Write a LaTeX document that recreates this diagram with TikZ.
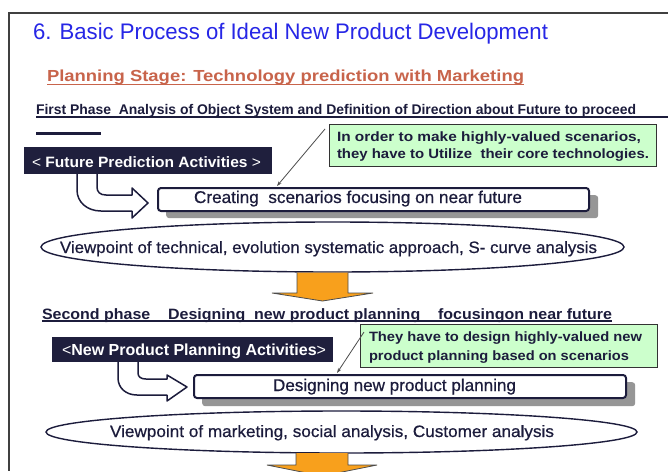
\documentclass[tikz,border=0pt]{standalone}
\usepackage{fontspec}
\setmainfont{Liberation Sans}
\newfontfamily\semibold[FakeBold=0.6]{Liberation Sans}
\usetikzlibrary{shapes.geometric,arrows.meta,calc}
\definecolor{ttlblue}{RGB}{38,38,230}
\definecolor{planred}{RGB}{200,100,75}
\definecolor{ink}{RGB}{28,28,60}
\definecolor{navybox}{RGB}{31,31,61}
\definecolor{mint}{RGB}{204,255,204}
\definecolor{orng}{RGB}{248,160,28}
\definecolor{shade}{RGB}{150,150,150}
\newcommand{\fitw}[2]{\resizebox{#1pt}{\height}{#2}}
\tikzset{
  txt/.style={inner sep=0pt, outer sep=0pt, anchor=base west, text=ink},
  darkbox/.style={fill=navybox, draw=none, inner sep=0pt, anchor=north west},
  notebox/.style={fill=mint, draw=black!80, line width=1.3pt, inner sep=0pt, anchor=north west},
  roundbox/.style={fill=white, draw=ink, line width=2pt, rounded corners=3pt, inner sep=0pt, anchor=north west},
  shadowbox/.style={fill=shade, draw=none, rounded corners=3pt, inner sep=0pt, anchor=north west},
  oval/.style={ellipse, draw=ink, line width=1.4pt, fill=white, inner sep=0pt},
  hollow/.style={fill=white, draw=ink, line width=1.5pt, line join=round},
  fatarrow/.style={fill=orng, draw=black!70, line width=0.8pt},
  callout/.style={draw=black!70, line width=0.8pt, -{Stealth[length=5pt,width=3.5pt]}},
  frameline/.style={draw=black!75, line width=1.2pt}
}
\begin{document}
\begin{tikzpicture}[x=1pt,y=-1pt]
\useasboundingbox (0,0) rectangle (668,471);
\clip (0,0) rectangle (668,471);
\fill[white] (0,0) rectangle (668,471);
\draw[frameline] (668,13) -- (9,13) -- (9,471);

% headings
\node[txt, text=ttlblue, font=\fontsize{22.5}{26}\selectfont] (title) at (33,39) {\fitw{515}{6. Basic Process of Ideal New Product Development}};
\node[txt, text=planred, font=\bfseries\fontsize{16}{18}\selectfont] (plan) at (47,81) {\fitw{477}{Planning Stage: Technology prediction with Marketing}};
\draw[planred, line width=1.5pt] ($(plan.base west)+(0,3.5)$) -- ($(plan.base east)+(0,3.5)$);
\node[txt, font=\bfseries\fontsize{14}{16}\selectfont] (ph1) at (36,114) {\fitw{600}{First Phase\ \ Analysis of Object System and Definition of Direction about Future to proceed}};
\coordinate (ph1end) at (668,117);
\draw[ink, line width=2.2pt] ($(ph1.base west)+(0,3)$) -- (ph1end);
\coordinate (sl1) at (36,133);
\coordinate (sl2) at (101,133);
\draw[ink, line width=3pt] (sl1) -- (sl2);

% first phase
\draw[hollow] (97,170) -- (97,187) .. controls (97,192) and (100,195) .. (106,195) -- (132,195) -- (132,188) -- (148,203) -- (132,218) -- (132,211) -- (101,211) .. controls (87,211) and (77,202) .. (77,190) -- (77,170);
\node[darkbox, minimum width=248pt, minimum height=27pt] (fpa) at (24,147) {};
\node[txt, text=white, font=\bfseries\fontsize{15}{16}\selectfont] (fpat) at (32,167) {\fitw{229}{{\mdseries <} Future Prediction Activities {\mdseries >}}};

\node[notebox, minimum width=327pt, minimum height=42pt] (note1) at (329,124) {};
\node[txt, font=\bfseries\fontsize{13.5}{15}\selectfont] (n1a) at (337,141) {\fitw{304}{In order to make highly-valued scenarios,}};
\node[txt, font=\bfseries\fontsize{13.5}{15}\selectfont] (n1b) at (337,158) {\fitw{312}{they have to Utilize\ \ their core technologies.}};

\node[shadowbox, minimum width=432pt, minimum height=23pt] (crs) at (166,195) {};
\node[roundbox, minimum width=431pt, minimum height=23pt] (crt) at (157,187) {};
\node[txt, font=\semibold\fontsize{17}{18}\selectfont] (crtt) at (194,203) {\fitw{328}{Creating\ \ scenarios focusing on near future}};
\coordinate (c1a) at (325,129);
\coordinate (c1b) at (277,186);
\draw[callout] (c1a) -- (c1b);

\node[oval, minimum width=583pt, minimum height=50pt] (ell1) at (332.5,247) {};
\node[txt, font=\semibold\fontsize{16.5}{18}\selectfont] (ell1t) at (60,253) {\fitw{537}{Viewpoint of technical, evolution systematic approach, S- curve analysis}};
\draw[fatarrow] (297,272.5) -- (297,293) -- (272,293) -- (322.5,301) -- (373,293) -- (348,293) -- (348,272.5);

% second phase
\node[txt, font=\bfseries\fontsize{15}{16}\selectfont] (ph2) at (42,319) {\fitw{570}{Second phase\ \ \ \ Designing\ \ new product planning\ \ \ \ focusingon near future}};
\draw[ink, line width=1.2pt] ($(ph2.base west)+(0,2)$) -- ($(ph2.base east)+(0,2)$);

\draw[hollow] (138,358) -- (138,373) .. controls (138,377) and (141,379) .. (146,379) -- (167,379) -- (167,375) -- (187,387) -- (167,401) -- (167,395) -- (137,395) .. controls (126,395) and (118,388) .. (118,378) -- (118,358);
\node[darkbox, minimum width=281pt, minimum height=25pt] (npa) at (52,337) {};
\node[txt, text=white, font=\bfseries\fontsize{16}{18}\selectfont] (npat) at (62,355) {\fitw{264}{{\mdseries <}New Product Planning Activities{\mdseries >}}};

\node[notebox, minimum width=297pt, minimum height=43pt] (note2) at (360,324) {};
\node[txt, font=\bfseries\fontsize{13.5}{15}\selectfont] (n2a) at (369,341) {\fitw{273}{They have to design highly-valued new}};
\node[txt, font=\bfseries\fontsize{13.5}{15}\selectfont] (n2b) at (369,360) {\fitw{260}{product planning based on scenarios}};

\node[shadowbox, minimum width=433pt, minimum height=24pt] (dgs) at (202,382) {};
\node[roundbox, minimum width=432pt, minimum height=23pt] (dgn) at (193,374) {};
\node[txt, font=\semibold\fontsize{17}{18}\selectfont] (dgnt) at (273,391) {\fitw{243}{Designing new product planning}};
\coordinate (c2a) at (364,332);
\coordinate (c2b) at (337,373);
\draw[callout] (c2a) -- (c2b);

\node[oval, minimum width=591pt, minimum height=42pt] (ell2) at (341.5,432) {};
\node[txt, font=\semibold\fontsize{16.5}{18}\selectfont] (ell2t) at (110,437) {\fitw{444}{Viewpoint of marketing, social analysis, Customer analysis}};
\draw[fatarrow] (296,453) -- (296,465) -- (267,465) -- (322,476) -- (377,465) -- (348,465) -- (348,453);
\end{tikzpicture}
\end{document}
